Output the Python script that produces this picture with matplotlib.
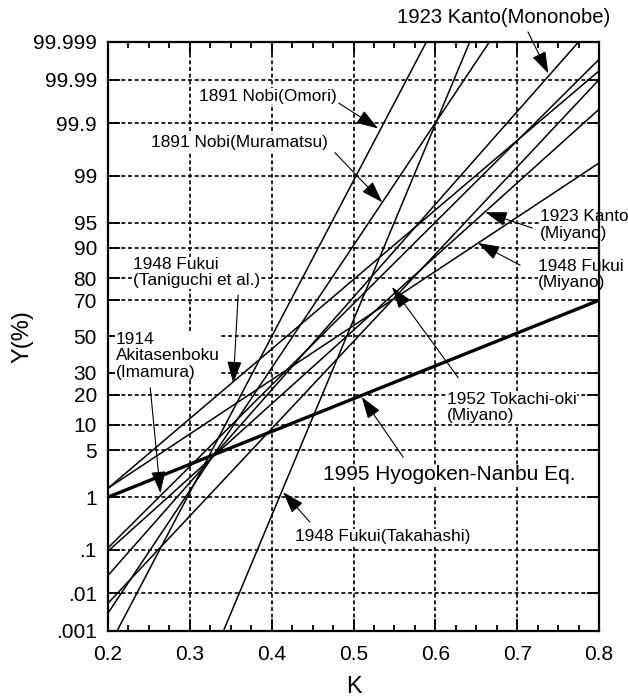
from statistics import NormalDist

import matplotlib
matplotlib.use("Agg")
import matplotlib.pyplot as plt
import numpy as np
from matplotlib.ticker import FixedLocator, MultipleLocator, NullLocator

plt.rcParams["font.family"] = ["Liberation Sans", "DejaVu Sans"]

ND = NormalDist()

# each study is a straight line on normal probability paper (K, Y%) -> (K, Y%)
names = ["1891 Nobi(Omori)", "1891 Nobi(Muramatsu)", "1923 Kanto(Mononobe)",
         "1948 Fukui(Takahashi)", "1923 Kanto(Miyano)", "1948 Fukui(Miyano)",
         "1952 Tokachi-oki(Miyano)", "1948 Fukui(Taniguchi et al.)",
         "1914 Akitasenboku(Imamura)"]
k_start = [0.211, 0.2, 0.2, 0.341, 0.2, 0.2, 0.2, 0.2, 0.2]
y_start = [0.001, 0.0031, 0.027, 0.001, 0.0056, 1.4, 0.094, 1.4, 0.11]
k_end = [0.589, 0.666, 0.775, 0.642, 0.8, 0.8, 0.8, 0.8, 0.8]
y_end = [99.999, 99.999, 99.999, 99.999, 99.99, 99.4, 99.95, 99.994, 99.997]

hyogo_k = [0.2, 0.8]
hyogo_y = [1, 70]

y_ticks = [0.001, 0.01, 0.1, 1, 5, 10, 20, 30, 50, 70, 80, 90, 95, 99, 99.9, 99.99, 99.999]
y_ticklabels = [".001", ".01", ".1", "1", "5", "10", "20", "30", "50", "70", "80",
                "90", "95", "99", "99.9", "99.99", "99.999"]
x_ticks = [0.2, 0.3, 0.4, 0.5, 0.6, 0.7, 0.8]

# labels: text, text pos (axes fraction), arrow tail (axes fraction), arrow tip (K, Y%)
labels = ["1923 Kanto(Mononobe)", "1891 Nobi(Omori)", "1891 Nobi(Muramatsu)",
          "1923 Kanto\n(Miyano)", "1948 Fukui\n(Miyano)", "1952 Tokachi-oki\n(Miyano)",
          "1948 Fukui\n(Taniguchi et al.)", "1914\nAkitasenboku\n(Imamura)",
          "1995 Hyogoken-Nanbu Eq.", "1948 Fukui(Takahashi)"]
label_pos = [(0.589, 1.041), (0.185, 0.908), (0.088, 0.829), (0.880, 0.689),
             (0.876, 0.605), (0.690, 0.379), (0.051, 0.608), (0.016, 0.467),
             (0.438, 0.265), (0.381, 0.160)]
tails = [(0.855, 1.017), (0.470, 0.896), (0.462, 0.812), (0.864, 0.684),
         (0.839, 0.621), (0.713, 0.430), (0.265, 0.570), (0.086, 0.413),
         (0.601, 0.295), (0.411, 0.185)]
tip_k = [0.738, 0.530, 0.535, 0.661, 0.652, 0.547, 0.353, 0.264, 0.510, 0.414]
tip_y = [99.993, 99.87, 97.4, 96.4, 91.2, 76.3, 25.0, 1.17, 19.0, 1.21]
label_size = [14.6, 12.4, 12.4, 12.4, 12.4, 12.4, 12.4, 12.4, 15, 12.4]

_inv = np.vectorize(lambda v: ND.inv_cdf(v / 100) if 0 < v < 100 else np.nan, otypes=[float])
_cdf = np.vectorize(lambda z: 100 * ND.cdf(z), otypes=[float])


def forward(p):
    return _inv(np.asarray(p, dtype=float))


def inverse(z):
    return _cdf(np.asarray(z, dtype=float))


fig = plt.figure(figsize=(6.28, 6.98), dpi=100)
ax = fig.add_axes([0.172, 0.096, 0.782, 0.844])
ax.set_yscale("function", functions=(forward, inverse))

for xs, ys, xe, ye in zip(k_start, y_start, k_end, y_end):
    ax.plot([xs, xe], [ys, ye], color="black", lw=1.1, zorder=3, solid_capstyle="butt")
ax.plot(hyogo_k, hyogo_y, color="black", lw=2.4, zorder=3, solid_capstyle="butt")

ax.set_xlim(0.2, 0.8)
ax.set_ylim(0.001, 99.999)

ax.yaxis.set_major_locator(FixedLocator(y_ticks))
ax.set_yticklabels(y_ticklabels)
ax.yaxis.set_minor_locator(NullLocator())
ax.xaxis.set_major_locator(FixedLocator(x_ticks))
ax.set_xticklabels([f"{v:.1f}" for v in x_ticks])
ax.xaxis.set_minor_locator(MultipleLocator(0.025))

ax.grid(True, which="major", color="black", lw=1.2, linestyle=(0, (2.4, 1.6)), zorder=1)
ax.tick_params(which="major", direction="in", length=8.6, width=1.3, top=True, right=True,
               labelsize=15)
ax.tick_params(axis="y", pad=8)
ax.tick_params(axis="x", pad=10)
ax.tick_params(which="minor", direction="in", length=4.3, width=1.3, top=True, right=True)
for sp in ax.spines.values():
    sp.set_linewidth(1.6)
    sp.set_zorder(5)

ax.set_xlabel("K", fontsize=17, labelpad=9)
ax.set_ylabel("Y(%)", fontsize=17, labelpad=0)

for text, pos, tail, tk, ty, fs in zip(labels, label_pos, tails, tip_k, tip_y, label_size):
    ax.text(pos[0], pos[1], text, transform=ax.transAxes, ha="left", va="center",
            fontsize=fs, linespacing=1.1, zorder=2, clip_on=False,
            bbox=dict(facecolor="white", edgecolor="none", pad=0.5))
    ax.annotate("", xy=(tk, ty), xycoords="data", xytext=tail, textcoords="axes fraction",
                annotation_clip=False, zorder=4,
                arrowprops=dict(arrowstyle="-|>,head_length=0.9,head_width=0.3",
                                color="black", lw=0.8, mutation_scale=15,
                                shrinkA=0, shrinkB=0))

fig.savefig("out.png", dpi=100)
